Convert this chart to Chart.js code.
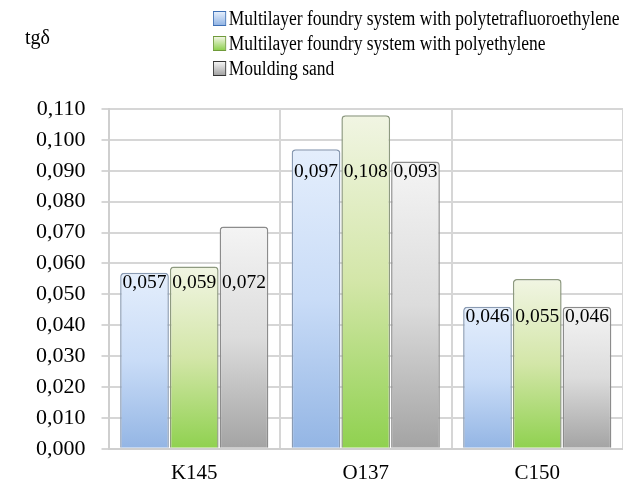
<!DOCTYPE html>
<html>
<head>
<meta charset="utf-8">
<script src="https://cdn.jsdelivr.net/npm/chart.js@4"></script>
<style>
  html, body { margin: 0; padding: 0; background: #fff; }
  #wrap { position: relative; width: 623px; height: 484px; }
  canvas { position: absolute; left: 0; top: 0; }
  .ylab { position: absolute; left: 25px; top: 26px; font: 20px "Liberation Serif", serif; color: #000; }
  #legend { position: absolute; left: 213px; top: 6px; font: 20px "Liberation Serif", serif; color: #000; line-height: 25px; transform: scaleX(0.875); transform-origin: left top; }
  #legend div { white-space: nowrap; }
  #legend span.box { display: inline-block; width: 13px; height: 13px; margin-right: 3px; vertical-align: -1px; border: 1px solid; }
</style>
</head>
<body>
<div id="wrap">
  <canvas id="c" width="623" height="484"></canvas>
  <div class="ylab">tgδ</div>
  <div id="legend"></div>
</div>
<script>
const categories = ["K145", "O137", "C150"];
const seriesNames = [
  "Multilayer foundry system with polytetrafluoroethylene",
  "Multilayer foundry system with polyethylene",
  "Moulding sand"
];
const ptfeValues = [0.057, 0.097, 0.046];
const peValues = [0.059, 0.108, 0.055];
const sandValues = [0.072, 0.093, 0.046];
const yMin = 0, yMax = 0.11, yStep = 0.01;

const palettes = [
  { top: "#e4eefc", mid: "#c9dcf7", bottom: "#93b5e4", border: "#8a9bb3", legendBorder: "#3d6fb5" },
  { top: "#f1f5e3", mid: "#d3e6a8", bottom: "#8fd14f", border: "#8e9a80", legendBorder: "#6f9a3a" },
  { top: "#f4f4f4", mid: "#dcdcdc", bottom: "#a3a3a3", border: "#8c8c8c", legendBorder: "#333333" }
];

const legend = document.getElementById("legend");
seriesNames.forEach((n, i) => {
  const d = document.createElement("div");
  const p = palettes[i];
  d.innerHTML = '<span class="box" style="border-color:' + p.legendBorder + ';background:linear-gradient(' + p.top + ',' + p.bottom + ')"></span>' + n;
  legend.appendChild(d);
});

function grad(i) {
  return (ctx) => {
    const ch = ctx.chart;
    const a = ch.chartArea;
    if (!a) return palettes[i].mid;
    const y0 = ch.scales.y.getPixelForValue(ctx.raw ?? 0);
    const g = ch.ctx.createLinearGradient(0, y0, 0, a.bottom);
    g.addColorStop(0, palettes[i].top);
    g.addColorStop(0.5, palettes[i].mid);
    g.addColorStop(1, palettes[i].bottom);
    return g;
  };
}

const fmt = v => v.toFixed(3).replace(".", ",");
const seriesData = [ptfeValues, peValues, sandValues];

const labelPlugin = {
  id: "valLabels",
  afterDatasetsDraw(chart) {
    const ctx = chart.ctx;
    const ys = chart.scales.y;
    ctx.save();
    ctx.font = '19.5px "Liberation Serif", serif';
    ctx.fillStyle = "#000";
    ctx.textAlign = "center";
    ctx.textBaseline = "middle";
    chart.data.datasets.forEach((ds, di) => {
      chart.getDatasetMeta(di).data.forEach((bar, i) => {
        const groupMin = Math.min(...seriesData.map(s => s[i]));
        ctx.fillText(fmt(ds.data[i]), bar.x, ys.getPixelForValue(groupMin) + 10);
      });
    });
    ctx.restore();
  }
};

new Chart(document.getElementById("c"), {
  type: "bar",
  data: {
    labels: categories,
    datasets: seriesData.map((d, i) => ({
      label: seriesNames[i],
      data: d,
      backgroundColor: grad(i),
      borderColor: palettes[i].border,
      borderWidth: 1.5,
      borderRadius: 4,
      borderSkipped: "bottom",
      categoryPercentage: 0.87,
      barPercentage: 0.98
    }))
  },
  options: {
    responsive: false,
    animation: false,
    layout: { padding: { top: 109, left: 20, right: 0, bottom: -14 } },
    plugins: { legend: { display: false }, tooltip: { enabled: false } },
    scales: {
      x: {
        grid: { color: "#d6d6d6", lineWidth: 2, tickLength: 0 },
        border: { color: "#cfcfcf", width: 2 },
        ticks: { color: "#000", font: { family: "Liberation Serif", size: 21 }, padding: 12 }
      },
      y: {
        min: yMin, max: yMax,
        ticks: { stepSize: yStep, color: "#000", font: { family: "Liberation Serif", size: 22 }, padding: 16, callback: v => fmt(v) },
        grid: { color: "#d6d6d6", lineWidth: 2, tickLength: 7 },
        border: { color: "#cfcfcf", width: 2 }
      }
    }
  },
  plugins: [labelPlugin]
});
</script>
</body>
</html>
